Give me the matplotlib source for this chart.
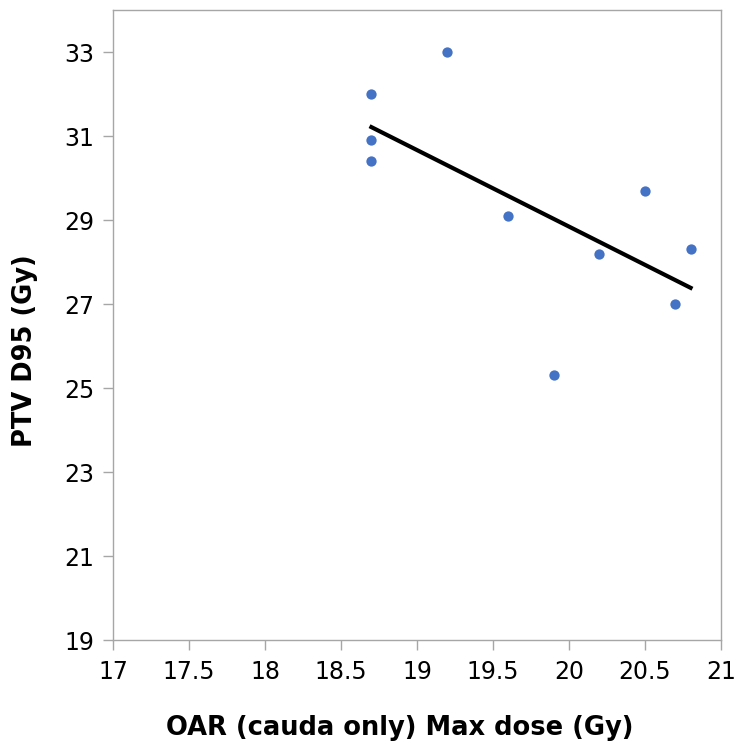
import numpy as np
import matplotlib
matplotlib.use("Agg")
import matplotlib.pyplot as plt

plt.rcParams['font.family'] = ['DejaVu Sans']

# Donnees
oar_max_dose = [18.7, 18.7, 18.7, 19.2, 19.6, 19.9, 20.2, 20.5, 20.7, 20.8]
ptv_d95 = [32.0, 30.9, 30.4, 33.0, 29.1, 25.3, 28.2, 29.7, 27.0, 28.3]

x_ticks = [17, 17.5, 18, 18.5, 19, 19.5, 20, 20.5, 21]
x_tick_labels = ["17", "17.5", "18", "18.5", "19", "19.5", "20", "20.5", "21"]
y_ticks = [19, 21, 23, 25, 27, 29, 31, 33]

# Droite de tendance (moindres carres)
slope, intercept = np.polyfit(oar_max_dose, ptv_d95, 1)
x_fit = np.array([min(oar_max_dose), max(oar_max_dose)])
y_fit = slope * x_fit + intercept

fig = plt.figure(figsize=(7.41, 7.47), dpi=100)
ax = fig.add_axes([0.1525, 0.1432, 0.8205, 0.8434])

ax.scatter(oar_max_dose, ptv_d95, s=55, color="#4472C4", zorder=3, linewidths=0)
ax.plot(x_fit, y_fit, color="black", linewidth=3, zorder=2)

ax.set_xlim(17, 21)
ax.set_ylim(19, 34)
ax.set_xticks(x_ticks)
ax.set_xticklabels(x_tick_labels)
ax.set_yticks(y_ticks)

for side in ["left", "right", "top", "bottom"]:
    ax.spines[side].set_color("#A6A6A6")
    ax.spines[side].set_linewidth(1)

ax.tick_params(axis="both", direction="out", length=7.5, width=1, color="#A6A6A6",
               labelsize=17)
ax.tick_params(axis="x", pad=7)
ax.tick_params(axis="y", pad=6)

ax.set_xlabel("OAR (cauda only) Max dose (Gy)", fontsize=18.5, fontweight="bold",
              va="center", ha="center")
ax.xaxis.set_label_coords(0.471, -0.1397)
ax.set_ylabel("PTV D95 (Gy)", fontsize=18.5, fontweight="bold",
              va="center", ha="center")
ax.yaxis.set_label_coords(-0.1447, 0.460)

plt.savefig("out.png", dpi=100)
